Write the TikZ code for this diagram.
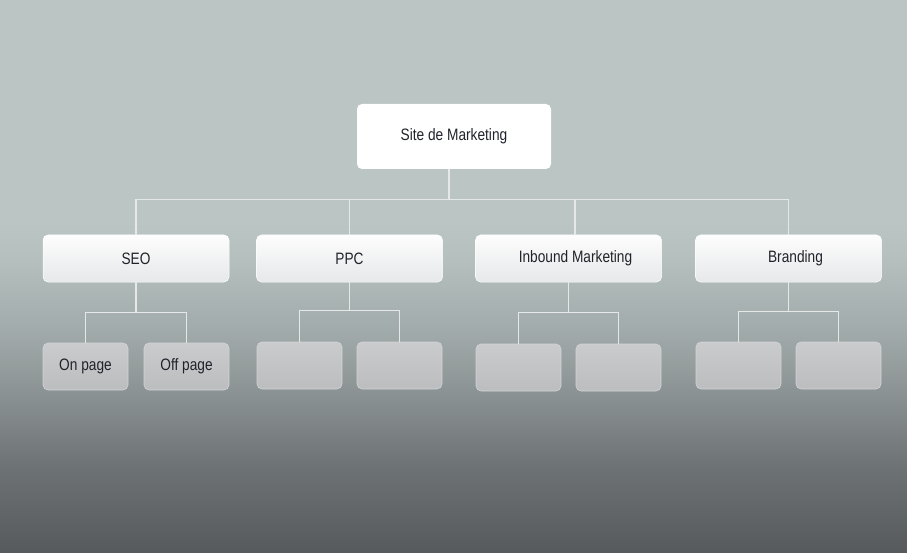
\documentclass[tikz,border=0pt]{standalone}
\usepackage{fontspec}
\setmainfont{Liberation Sans}[FakeStretch=0.83]
\usetikzlibrary{positioning}
\definecolor{bgtop}{HTML}{BAC5C4}
\definecolor{bgA}{HTML}{B4BFBE}
\definecolor{bgB}{HTML}{A2ABAB}
\definecolor{bgC}{HTML}{888F90}
\definecolor{bgD}{HTML}{6C7173}
\definecolor{bgbot}{HTML}{565A5D}
\definecolor{txt}{HTML}{20242A}
\definecolor{wire}{HTML}{E4E9E8}
\definecolor{lvtop}{HTML}{FDFDFD}
\definecolor{lvbot}{HTML}{E6E8E9}
\definecolor{lftop}{HTML}{C9CBCC}
\definecolor{lfbot}{HTML}{BBBDBF}
\definecolor{lfedge}{HTML}{D2D4D5}
\pgfdeclareverticalshading{bgshade}{100bp}{
  color(0bp)=(bgbot);
  color(25bp)=(bgbot);
  color(32.5bp)=(bgD);
  color(38.8bp)=(bgC);
  color(45.2bp)=(bgB);
  color(51.5bp)=(bgA);
  color(55bp)=(bgtop);
  color(100bp)=(bgtop)}
\tikzset{
  rootbox/.style={rounded corners=5pt, fill=white, minimum width=194pt, minimum height=65pt,
    inner sep=0pt, font=\fontsize{16.5}{18}\selectfont, text=txt},
  lvbox/.style={rounded corners=5pt, top color=lvtop, bottom color=lvbot, draw=white, line width=0.5pt,
    minimum width=186pt, minimum height=47pt, inner sep=0pt, font=\fontsize{16.5}{18}\selectfont, text=txt},
  leafbox/.style={rounded corners=5pt, top color=lftop, bottom color=lfbot, draw=lfedge, line width=0.6pt,
    minimum width=85pt, minimum height=47pt, inner sep=0pt, font=\fontsize{16.5}{18}\selectfont, text=txt},
  wireline/.style={draw=wire, line width=1.1pt}
}
\begin{document}
\begin{tikzpicture}[x=1pt,y=-1pt]
\useasboundingbox (0,0) rectangle (907,553);
\shade[shading=bgshade] (0,0) rectangle (907,553);

\node[rootbox] (root) at (454,136.5) {Site de Marketing};

\node[lvbox] (seo) at (136,258.5) {SEO};
\node[lvbox] (ppc) at (349.5,258.5) {PPC};
\node[lvbox] (inb) at (568.5,258.5) {\hspace*{14pt}Inbound Marketing};
\node[lvbox] (brd) at (788.5,258.5) {\hspace*{14pt}Branding};

\node[leafbox] (on) at (85.5,366.5) {On page};
\node[leafbox] (off) at (186.5,366.5) {Off page};
\node[leafbox] (p1) at (299.5,365.5) {};
\node[leafbox] (p2) at (399.5,365.5) {};
\node[leafbox] (i1) at (518.5,367.5) {};
\node[leafbox] (i2) at (618.5,367.5) {};
\node[leafbox] (b1) at (738.5,365.5) {};
\node[leafbox] (b2) at (838.5,365.5) {};

\coordinate (rs) at ([xshift=-5pt]root.south);
\draw[wireline] (rs) -- ++(0,30) -| (seo.north);
\draw[wireline] (rs) -- ++(0,30) -| (ppc.north);
\draw[wireline] (rs) -- ++(0,30) -| ([xshift=6.5pt]inb.north);
\draw[wireline] (rs) -- ++(0,30) -| (brd.north);

\draw[wireline] (seo.south) -- ++(0,30) -| (on.north);
\draw[wireline] (seo.south) -- ++(0,30) -| (off.north);
\draw[wireline] (ppc.south) -- ++(0,28) -| (p1.north);
\draw[wireline] (ppc.south) -- ++(0,28) -| (p2.north);
\draw[wireline] (inb.south) -- ++(0,30) -| (i1.north);
\draw[wireline] (inb.south) -- ++(0,30) -| (i2.north);
\draw[wireline] (brd.south) -- ++(0,29) -| (b1.north);
\draw[wireline] (brd.south) -- ++(0,29) -| (b2.north);
\end{tikzpicture}
\end{document}
